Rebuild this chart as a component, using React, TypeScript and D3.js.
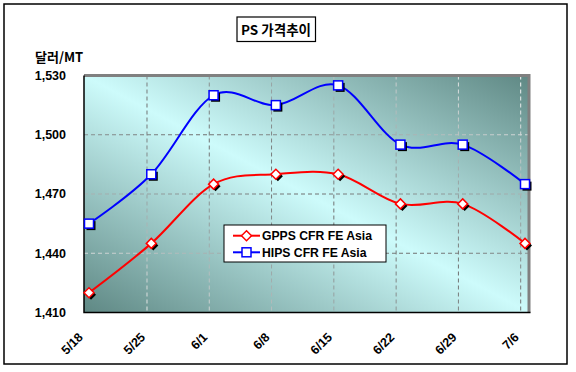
import React from "react";
import * as d3 from "d3";

const categories = ["5/18", "5/25", "6/1", "6/8", "6/15", "6/22", "6/29", "7/6"];
const gppsValues = [1420, 1445, 1475, 1480, 1480, 1465, 1465, 1445];
const hipsValues = [1455, 1480, 1520, 1515, 1525, 1495, 1495, 1475];
const yTicks = [1410, 1440, 1470, 1500, 1530];
const seriesNames = ["GPPS CFR FE Asia", "HIPS CFR FE Asia"];
const titleText = "PS 가격추이";
const unitText = "달러/MT";

const W = 576;
const H = 372;
const plot = { left: 84, right: 529, top: 75.5, bottom: 312.5 };
const gridShift = -4.3;
const FONT = "'Liberation Sans', Arial, sans-serif";
const KFONT = "'Noto Sans CJK KR', 'Liberation Sans', sans-serif";

export default function App() {
  const x = d3.scalePoint<string>().domain(categories).range([89, 525]);
  const y = d3.scaleLinear().domain([1410, 1530]).range([plot.bottom, plot.top]);

  const line = d3
    .line<number>()
    .x((_, i) => x(categories[i]) as number)
    .y((d) => y(d))
    .curve(d3.curveCardinal.tension(0));

  const pw = plot.right - plot.left;
  const ph = plot.bottom - plot.top;
  const L = Math.sqrt(pw * pw + ph * ph);
  const cx = (plot.left + plot.right) / 2;
  const cy = (plot.top + plot.bottom) / 2;
  const dx = ph / L;
  const dy = -pw / L;
  const k = (pw * ph) / L;
  const g = { x1: cx - k * dx, y1: cy - k * dy, x2: cx + k * dx, y2: cy + k * dy };

  const sq = 4.5;
  const dm = 5;

  const diamond = (px: number, py: number) =>
    `M${px},${py - dm}L${px + dm},${py}L${px},${py + dm}L${px - dm},${py}Z`;

  return (
    <svg
      width={W}
      height={H}
      style={{ position: "absolute", left: 0, top: 0, background: "#fff" }}
    >
      <defs>
        <linearGradient id="bg" gradientUnits="userSpaceOnUse" {...g}>
          <stop offset="0" stopColor="#5f8884" />
          <stop offset="0.5" stopColor="#cdfbfb" />
          <stop offset="1" stopColor="#5f8884" />
        </linearGradient>
        <linearGradient id="gridg" gradientUnits="userSpaceOnUse" {...g}>
          <stop offset="0" stopColor="#ffffff" />
          <stop offset="0.3" stopColor="#9aa6a6" />
          <stop offset="0.5" stopColor="#6f6f6f" />
          <stop offset="0.7" stopColor="#9aa6a6" />
          <stop offset="1" stopColor="#ffffff" />
        </linearGradient>
      </defs>

      <rect x={4} y={4} width={563} height={360} fill="#fff" stroke="#000" strokeWidth={1.5} />

      {/* title */}
      <rect x={237} y={17} width={78.5} height={24.5} fill="#fff" stroke="#000" strokeWidth={1.2} />
      <text
        x={276}
        y={34.5}
        textAnchor="middle"
        fontFamily={KFONT}
        fontWeight="bold"
        fontSize={13.5}
        fill="#000"
      >
        {titleText}
      </text>

      <text x={35} y={62} fontFamily={KFONT} fontSize={13} fontWeight="bold" fill="#000">
        {unitText}
      </text>

      {/* plot background */}
      <rect
        x={plot.left}
        y={plot.top}
        width={pw}
        height={ph}
        fill="url(#bg)"
      />

      {/* horizontal grid */}
      {yTicks.slice(1, -1).map((t) => (
        <line
          key={"h" + t}
          x1={plot.left}
          x2={plot.right}
          y1={y(t)}
          y2={y(t)}
          stroke="url(#gridg)"
          strokeWidth={1}
          strokeDasharray="4,3"
        />
      ))}
      {/* vertical grid */}
      {categories.slice(1).map((c) => (
        <line
          key={"v" + c}
          x1={(x(c) as number) + gridShift}
          x2={(x(c) as number) + gridShift}
          y1={plot.top}
          y2={plot.bottom}
          stroke="url(#gridg)"
          strokeWidth={1}
          strokeDasharray="4,3"
        />
      ))}

      {/* frame */}
      <path
        d={`M${plot.left},${plot.top}H${plot.right}V${plot.bottom}`}
        fill="none"
        stroke="#808080"
        strokeWidth={3}
      />
      <path
        d={`M${plot.left},${plot.top}V${plot.bottom}H${plot.right + 1.5}`}
        fill="none"
        stroke="#000"
        strokeWidth={1.5}
      />

      {/* y tick labels */}
      {yTicks.map((t) => (
        <text
          key={"yt" + t}
          x={66}
          y={y(t)}
          dy="0.35em"
          textAnchor="end"
          fontFamily={FONT}
          fontWeight="bold"
          fontSize={12.5}
          fill="#000"
        >
          {d3.format(",")(t)}
        </text>
      ))}

      {/* x tick labels */}
      {categories.map((c) => {
        const ax = (x(c) as number) + gridShift - 1;
        const ay = 338;
        return (
          <text
            key={"xt" + c}
            x={ax}
            y={ay}
            transform={`rotate(-45 ${ax} ${ay})`}
            textAnchor="end"
            fontFamily={FONT}
            fontWeight="bold"
            fontSize={12.5}
            fill="#000"
          >
            {c}
          </text>
        );
      })}

      {/* lines */}
      <path d={line(hipsValues) || ""} fill="none" stroke="#0000ff" strokeWidth={2} />
      <path d={line(gppsValues) || ""} fill="none" stroke="#ff0000" strokeWidth={2} />

      {/* HIPS markers */}
      {hipsValues.map((v, i) => {
        const px = x(categories[i]) as number;
        const py = y(v);
        return (
          <g key={"hm" + i}>
            <rect x={px - sq + 2} y={py - sq + 2} width={sq * 2} height={sq * 2} fill="#000" />
            <rect
              x={px - sq}
              y={py - sq}
              width={sq * 2}
              height={sq * 2}
              fill="#fff"
              stroke="#0000ff"
              strokeWidth={1.5}
            />
          </g>
        );
      })}

      {/* GPPS markers */}
      {gppsValues.map((v, i) => {
        const px = x(categories[i]) as number;
        const py = y(v);
        return (
          <g key={"gm" + i}>
            <path d={diamond(px + 2, py + 2)} fill="#000" />
            <path d={diamond(px, py)} fill="#fff" stroke="#ff0000" strokeWidth={1.5} />
          </g>
        );
      })}

      {/* legend */}
      <rect x={224} y={225} width={162} height={37} fill="#fff" stroke="#000" strokeWidth={1} />
      {seriesNames.map((name, i) => {
        const ly = 235.7 + i * 16.6;
        const color = i === 0 ? "#ff0000" : "#0000ff";
        return (
          <g key={"lg" + i}>
            <line x1={233} x2={260} y1={ly} y2={ly} stroke={color} strokeWidth={2} />
            {i === 0 ? (
              <path d={diamond(246.5, ly)} fill="#fff" stroke={color} strokeWidth={1.5} />
            ) : (
              <rect
                x={246.5 - sq}
                y={ly - sq}
                width={sq * 2}
                height={sq * 2}
                fill="#fff"
                stroke={color}
                strokeWidth={1.5}
              />
            )}
            <text
              x={262}
              y={ly}
              dy="0.36em"
              fontFamily={FONT}
              fontWeight="bold"
              fontSize={12.2}
              fill="#000"
            >
              {name}
            </text>
          </g>
        );
      })}
    </svg>
  );
}
